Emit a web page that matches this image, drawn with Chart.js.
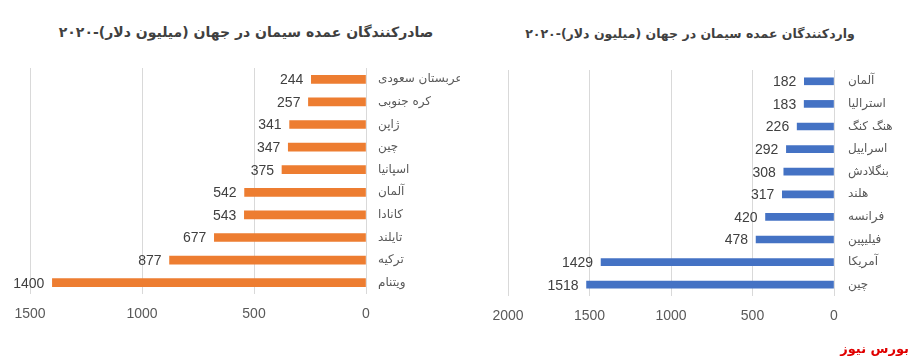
<!DOCTYPE html>
<html>
<head>
<meta charset="utf-8">
<script src="https://cdn.jsdelivr.net/npm/chart.js@4.4.1/dist/chart.umd.min.js"></script>
<style>
  body { margin: 0; background: #fff; }
  #wrap { position: relative; width: 914px; height: 362px; overflow: hidden; }
  .box { position: absolute; top: 0; height: 362px; }
  .title { position: absolute; font-family: 'DejaVu Sans', sans-serif; font-weight: bold; color: #404040; text-align: center; direction: rtl; white-space: nowrap; }
  #brand { position: absolute; right: 5px; top: 341px; font-family: 'DejaVu Sans', sans-serif; font-weight: bold; font-size: 13px; color: #e00000; direction: rtl; }
</style>
</head>
<body>
<div id="wrap">
  <div class="title" style="left:40px; width:412px; top:24px; font-size:14px;">صادرکنندگان عمده سیمان در جهان (میلیون دلار)-۲۰۲۰</div>
  <div class="title" style="left:500px; width:380px; top:26px; font-size:12.5px;">واردکنندگان عمده سیمان در جهان (میلیون دلار)-۲۰۲۰</div>
  <div class="box" style="left:0; width:460px;"><canvas id="exportChart"></canvas></div>
  <div class="box" style="left:460px; width:454px;"><canvas id="importChart"></canvas></div>
  <div id="brand">بورس نیوز</div>
</div>
<script>
const exportCountries = ['عربستان سعودی', 'کره جنوبی', 'ژاپن', 'چین', 'اسپانیا', 'آلمان', 'کانادا', 'تایلند', 'ترکیه', 'ویتنام'];
const exportValues = [244, 257, 341, 347, 375, 542, 543, 677, 877, 1400];
const exportTicks = [0, 500, 1000, 1500];

const importCountries = ['آلمان', 'استرالیا', 'هنگ کنگ', 'اسراییل', 'بنگلادش', 'هلند', 'فرانسه', 'فیلیپین', 'آمریکا', 'چین'];
const importValues = [182, 183, 226, 292, 308, 317, 420, 478, 1429, 1518];
const importTicks = [0, 500, 1000, 1500, 2000];

const numFont = "'Liberation Sans', Arial, sans-serif";
const faFont = "'DejaVu Sans', sans-serif";

// draws the value just left of each bar end
const barValues = {
    id: 'barValues',
    afterDatasetsDraw(chart) {
        const ctx = chart.ctx;
        const meta = chart.getDatasetMeta(0);
        const vals = chart.data.datasets[0].data;
        ctx.save();
        ctx.font = '14px ' + numFont;
        ctx.fillStyle = '#404040';
        ctx.textAlign = 'right';
        ctx.textBaseline = 'middle';
        meta.data.forEach((bar, i) => {
            ctx.fillText(String(vals[i]), bar.x - 8, bar.y + 1);
        });
        ctx.restore();
    }
};

function makeChart(id, labels, values, ticks, color, thickness, layout, yWidth, labelPad) {
    const canvas = document.getElementById(id);
    return new Chart(canvas, {
        type: 'bar',
        data: {
            labels: labels,
            datasets: [{
                data: values,
                backgroundColor: color,
                borderWidth: 0,
                barThickness: thickness
            }]
        },
        options: {
            indexAxis: 'y',
            responsive: true,
            maintainAspectRatio: false,
            animation: false,
            layout: { padding: layout },
            plugins: {
                legend: { display: false },
                tooltip: { enabled: false }
            },
            scales: {
                x: {
                    reverse: true,
                    min: ticks[0],
                    max: ticks[ticks.length - 1],
                    afterBuildTicks: axis => { axis.ticks = ticks.map(v => ({ value: v })); },
                    afterFit: axis => { axis.height = 30; },
                    grid: { color: '#d9d9d9', drawTicks: false, lineWidth: 1 },
                    border: { display: false },
                    ticks: {
                        color: '#595959',
                        font: { family: numFont, size: 14 },
                        padding: 12,
                        callback: v => String(v)
                    }
                },
                y: {
                    position: 'right',
                    afterFit: axis => { axis.width = yWidth; },
                    grid: { display: false, drawTicks: false },
                    border: { display: false },
                    ticks: { color: '#595959', font: { family: faFont, size: 12 }, padding: labelPad }
                }
            }
        },
        plugins: [barValues]
    });
}

makeChart('exportChart', exportCountries, exportValues, exportTicks, '#ED7D31', 8,
    { left: 30, right: 0, top: 68, bottom: 38 }, 94, 12);
makeChart('importChart', importCountries, importValues, importTicks, '#4472C4', 7,
    { left: 48, right: 0, top: 70, bottom: 36 }, 80, 14);
</script>
</body>
</html>
